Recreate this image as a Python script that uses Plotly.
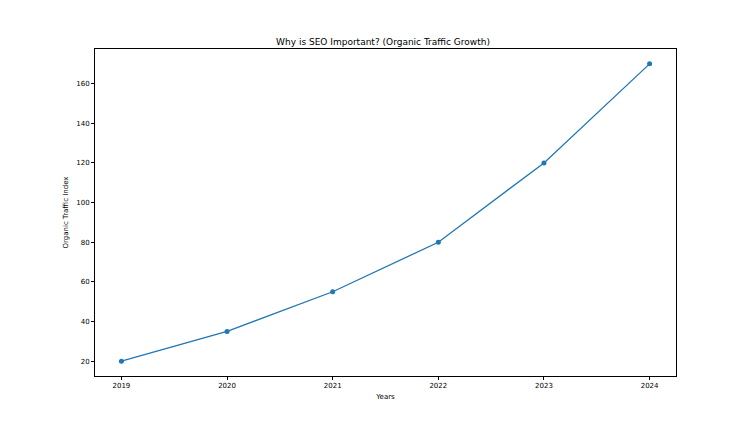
import plotly.graph_objects as go

years = [2019, 2020, 2021, 2022, 2023, 2024]
traffic = [20, 35, 55, 80, 120, 170]
y_ticks = [20, 40, 60, 80, 100, 120, 140, 160]

fig = go.Figure(go.Scatter(x=years, y=traffic, mode="lines+markers",
                           line=dict(color="#1f77b4", width=1.3),
                           marker=dict(color="#1f77b4", size=5)))
ax = dict(showline=True, linecolor="black", linewidth=1, mirror=True, ticks="outside",
          ticklen=3, tickcolor="black", showgrid=False, zeroline=False,
          tickfont=dict(size=7, color="black"))
fig.update_layout(
    width=750, height=422, plot_bgcolor="white", paper_bgcolor="white",
    margin=dict(l=87, r=82, t=41, b=54),
    font=dict(family="DejaVu Sans", color="black"),
    title=dict(text="Why is SEO Important? (Organic Traffic Growth)", x=0.5, xanchor="center",
               y=1 - 37/422, yanchor="bottom", font=dict(size=9, color="black")),
    xaxis=dict(ax, range=[2018.75, 2024.25], tickvals=years,
               title=dict(text="Years", font=dict(size=7, color="black"), standoff=4)),
    yaxis=dict(ax, range=[12.5, 177.5], tickvals=y_ticks,
               title=dict(text="Organic Traffic Index", font=dict(size=7, color="black"), standoff=6)),
    showlegend=False,
)
fig.write_html("out.html")
